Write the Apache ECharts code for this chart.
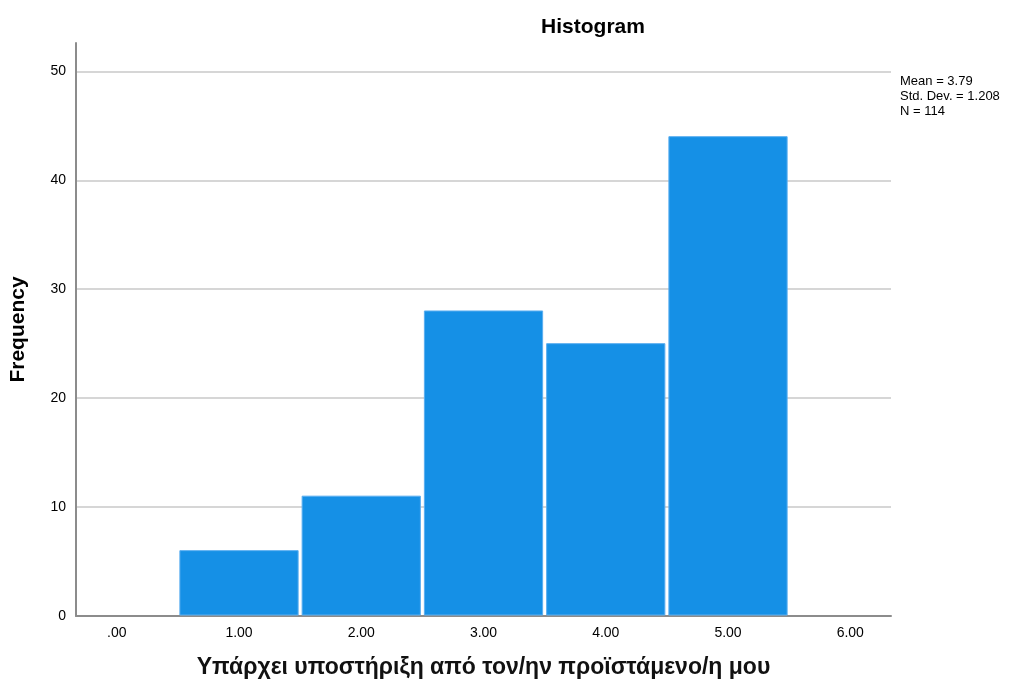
<!DOCTYPE html>
<html>
<head>
<meta charset="utf-8">
<script src="https://cdn.jsdelivr.net/npm/echarts@6/dist/echarts.min.js"></script>
<style>html,body{margin:0;padding:0;background:#fff}#c{width:1024px;height:687px}</style>
</head>
<body>
<div id="c"></div>
<script>
const binCenters = [0, 1, 2, 3, 4, 5, 6];
const frequencies = [0, 6, 11, 28, 25, 44, 0];
const xTickValues = [0, 1, 2, 3, 4, 5, 6];
const xTickLabels = ['.00', '1.00', '2.00', '3.00', '4.00', '5.00', '6.00'];
const yTickValues = [0, 10, 20, 30, 40, 50];
const statsLines = ['Mean = 3.79', 'Std. Dev. = 1.208', 'N = 114'];
const titleText = 'Histogram';
const xName = 'Υπάρχει υποστήριξη από τον/ην προϊστάμενο/η μου';
const yName = 'Frequency';

const chart = echarts.init(document.getElementById('c'), null, {renderer: 'canvas'});
const font = 'Arial, "Liberation Sans", sans-serif';
const data = binCenters.map((c, i) => [c, frequencies[i]]).filter(d => d[1] > 0);

chart.setOption({
  animation: false,
  backgroundColor: '#fff',
  textStyle: {fontFamily: font},
  title: {
    text: titleText, left: 588, top: 12, textAlign: 'center',
    textStyle: {fontFamily: font, fontSize: 21, fontWeight: 'bold', color: '#000'}
  },
  grid: {left: 75, right: 133, top: 43, bottom: 71, containLabel: false},
  xAxis: {
    type: 'value', min: -1/3, max: 19/3,
    axisLine: {show: true, onZero: false, lineStyle: {color: '#8c8c8c', width: 2}},
    axisTick: {show: false},
    splitLine: {show: false},
    axisLabel: {
      customValues: xTickValues,
      formatter: v => xTickLabels[xTickValues.indexOf(Math.round(v))],
      fontFamily: font, fontSize: 14, color: '#000', margin: 10
    },
    name: xName, nameLocation: 'middle', nameGap: 40,
    nameTextStyle: {fontFamily: font, fontSize: 23, fontWeight: 'bold', color: '#111'}
  },
  yAxis: {
    type: 'value', min: 0, max: 52.6, interval: 10,
    axisLine: {show: true, onZero: false, lineStyle: {color: '#8c8c8c', width: 2}},
    axisTick: {show: false},
    splitLine: {show: true, showMaxLine: false, showMinLine: false, lineStyle: {color: '#c8c8c8', width: 1.5}},
    axisLabel: {
      customValues: yTickValues,
      fontFamily: font, fontSize: 14, color: '#000', margin: 10
    },
    name: yName, nameLocation: 'middle', nameGap: 47, nameRotate: 90,
    nameTextStyle: {fontFamily: font, fontSize: 21, fontWeight: 'bold', color: '#000'}
  },
  graphic: [{
    type: 'text', left: 900, top: 74,
    style: {text: statsLines.join('\n'), font: '13px ' + font, fill: '#000', lineHeight: 15}
  }],
  series: [{
    type: 'custom',
    data: data,
    encode: {x: 0, y: 1},
    renderItem: function (params, api) {
      const x = api.value(0), y = api.value(1);
      const p0 = api.coord([x - 0.5, y]);
      const p1 = api.coord([x + 0.5, 0]);
      return {
        type: 'rect',
        shape: {x: p0[0] + 2, y: p0[1], width: p1[0] - p0[0] - 4, height: p1[1] - p0[1] - 1},
        style: {fill: '#1590e6', stroke: '#5aaef0', lineWidth: 1}
      };
    }
  }]
});
</script>
</body>
</html>
